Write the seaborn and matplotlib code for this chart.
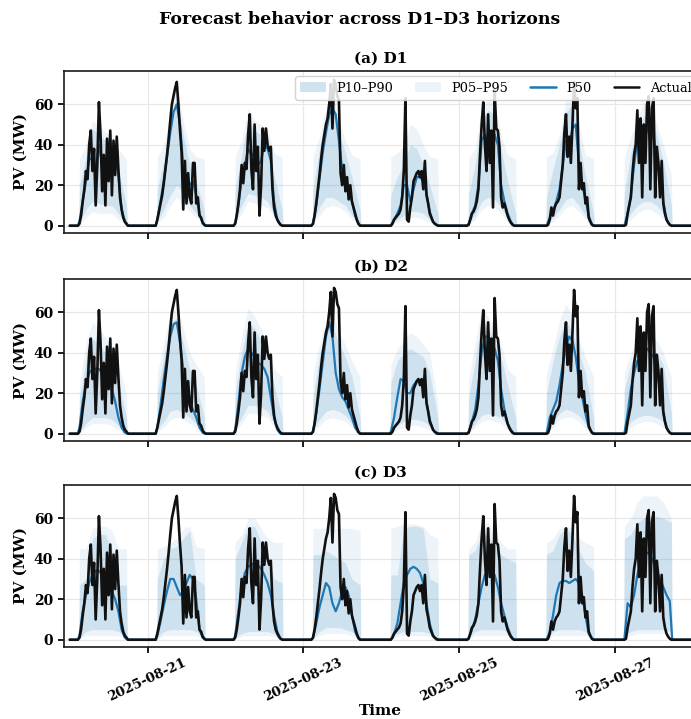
import numpy as np
import pandas as pd
import matplotlib
matplotlib.use("Agg")
import matplotlib.pyplot as plt
import matplotlib.dates as mdates
from matplotlib.patches import Patch
from matplotlib.lines import Line2D
import seaborn as sns

# ---------------- data ----------------
DAYS = ["2025-08-20", "2025-08-21", "2025-08-22", "2025-08-23",
        "2025-08-24", "2025-08-25", "2025-08-26", "2025-08-27"]
PANEL_TITLES = ["(a) D1", "(b) D2", "(c) D3"]
TICK_DATES = ["2025-08-21", "2025-08-23", "2025-08-25", "2025-08-27"]
Y_TICKS = [0, 20, 40, 60]

# Actual PV, half-hourly from 02:30 to 18:00 (zero at night)
ACT_HOURS = [2.5, 3.0, 3.5, 4.0, 4.5, 5.0, 5.5, 6.0, 6.5, 7.0, 7.5, 8.0, 8.5, 9.0, 9.5, 10.0,
             10.5, 11.0, 11.5, 12.0, 12.5, 13.0, 13.5, 14.0, 14.5, 15.0, 15.5, 16.0, 16.5, 17.0, 17.5, 18.0]
ACT_D20 = [0, 1, 5, 12, 18, 27, 23, 40, 47, 27, 38, 10, 30, 61, 45, 17, 35, 10, 43, 22, 47, 15, 42, 25, 44, 28, 14, 8, 4, 2, 1, 0]
ACT_D21 = [0, 3, 7, 11, 15, 21, 28, 35, 43, 52, 60, 64, 68, 71, 60, 47, 36, 8, 32, 11, 26, 14, 11, 31, 31, 11, 14, 5, 4, 1.5, 0.5, 0]
ACT_D22 = [0, 1, 5, 11, 18, 30, 21, 31, 28, 45, 55, 28, 18, 50, 27, 39, 5, 20, 48, 37, 48, 40, 37, 39, 18, 9, 5, 3, 1.5, 0.5, 0, 0]
ACT_D23 = [0, 1, 5, 11, 18, 25, 33, 40, 45, 50, 53, 60, 70, 48, 72, 70, 64, 62, 26, 20, 30, 17, 24, 13, 20, 12, 9, 6, 3, 1, 0, 0]
ACT_D24 = [0, 0, 1, 3, 4, 5, 6, 8, 14, 27, 63, 3, 2, 9, 14, 22, 24, 26, 27, 24, 27, 18, 32, 15, 11, 6, 4, 2, 1, 0.5, 0, 0]
ACT_D25 = [0, 0.5, 3, 6, 7, 9, 12, 18, 35, 50, 61, 40, 27, 55, 31, 47, 9, 67, 48, 47, 39, 14, 9, 11, 8, 5, 3, 1.5, 0.5, 0, 0, 0]
ACT_D26 = [0, 0, 0.5, 3, 9, 5, 9, 11, 12, 14, 22, 30, 46, 55, 34, 44, 31, 50, 71, 58, 63, 18, 31, 18, 21, 11, 14, 4, 2, 0.5, 0, 0]
ACT_D27 = [0, 0, 0.5, 6, 10, 14, 26, 35, 40, 57, 31, 53, 14, 50, 31, 60, 64, 18, 58, 63, 14, 39, 31, 14, 32, 11, 6, 3, 1.5, 0.5, 0, 0]
ACTUAL_DAYS = [ACT_D20, ACT_D21, ACT_D22, ACT_D23, ACT_D24, ACT_D25, ACT_D26, ACT_D27]

# P50 forecasts, hourly 03:00 .. 17:00
P50_HOURS = [3, 4, 5, 6, 7, 8, 9, 10, 11, 12, 13, 14, 15, 16, 17]
P50_D1 = [
    [2, 12, 22, 33, 33, 28, 40, 30, 28, 33, 30, 33, 25, 8, 2],
    [3, 12, 22, 34, 46, 56, 60, 50, 30, 22, 20, 22, 15, 6, 1],
    [1, 10, 24, 30, 38, 35, 36, 30, 32, 40, 38, 32, 12, 3, 0.5],
    [1, 10, 23, 36, 46, 55, 58, 55, 42, 28, 22, 18, 12, 5, 1],
    [0, 3, 6, 10, 20, 20, 12, 18, 24, 24, 22, 16, 7, 2, 0.5],
    [1, 6, 10, 20, 42, 45, 40, 38, 45, 40, 20, 12, 6, 2, 0],
    [0, 4, 7, 12, 18, 30, 42, 40, 48, 50, 30, 20, 13, 5, 0.5],
    [0, 6, 15, 30, 42, 40, 38, 50, 42, 45, 32, 25, 12, 3, 0.5],
]
P50_D2 = [
    [3, 16, 24, 30, 32, 32, 32, 30, 28, 26, 22, 16, 8, 3, 0.5],
    [3, 14, 27, 38, 48, 54, 55, 45, 32, 22, 16, 12, 8, 3, 0.5],
    [2, 15, 30, 38, 42, 40, 38, 35, 34, 32, 28, 18, 8, 2, 0],
    [1, 10, 22, 35, 48, 55, 48, 30, 22, 18, 16, 12, 8, 3, 0.5],
    [1, 8, 18, 27, 26, 20, 20, 24, 26, 26, 24, 16, 7, 2, 0],
    [1, 6, 12, 24, 40, 48, 48, 45, 42, 36, 22, 12, 5, 2, 0],
    [0, 8, 12, 16, 24, 34, 42, 48, 46, 38, 26, 18, 10, 3, 0.5],
    [0, 10, 22, 30, 36, 38, 40, 42, 40, 38, 32, 22, 10, 3, 0.5],
]
P50_D3 = [
    [2, 14, 22, 28, 32, 34, 34, 32, 30, 27, 24, 20, 14, 5, 1],
    [2, 9, 17, 24, 30, 30, 26, 22, 24, 28, 32, 30, 20, 5, 1],
    [2, 14, 26, 33, 36, 37, 38, 37, 35, 32, 28, 22, 12, 4, 0.5],
    [1, 8, 16, 22, 28, 26, 18, 14, 18, 24, 26, 22, 12, 4, 0.5],
    [0, 3, 8, 18, 28, 32, 35, 36, 35, 33, 28, 18, 8, 2, 0],
    [1, 5, 10, 18, 26, 32, 34, 34, 32, 26, 18, 12, 6, 2, 0],
    [0, 4, 12, 22, 28, 29, 29, 28, 29, 30, 28, 22, 12, 3, 0.5],
    [0, 18, 16, 22, 32, 38, 42, 43, 42, 38, 34, 30, 26, 22, 19],
]
P50_PANELS = [P50_D1, P50_D2, P50_D3]

# Quantile bands, at 03, 05, 07, 09, 11, 13, 15, 17:30
BAND_HOURS = [3, 5, 7, 9, 11, 13, 15, 17.5]
P95_D1 = [[33, 40, 52, 50, 46, 45, 38, 33], [34, 40, 55, 70, 52, 38, 34, 33], [34, 42, 58, 52, 50, 48, 36, 34],
          [34, 44, 58, 66, 52, 42, 35, 33], [34, 36, 40, 50, 48, 40, 34, 33], [34, 38, 58, 62, 60, 45, 35, 33],
          [34, 36, 45, 62, 66, 50, 35, 33], [34, 44, 54, 60, 60, 50, 40, 25]]
P90_D1 = [[20, 34, 48, 45, 42, 40, 28, 10], [18, 32, 50, 64, 45, 30, 22, 8], [18, 35, 52, 47, 45, 42, 25, 8],
          [18, 38, 54, 62, 45, 36, 24, 8], [15, 24, 30, 40, 38, 30, 20, 6], [16, 30, 52, 57, 55, 38, 22, 6],
          [14, 28, 40, 56, 60, 42, 25, 6], [16, 36, 48, 54, 55, 45, 32, 10]]
P10_D1 = [[2, 8, 12, 11, 10, 10, 6, 1], [2, 8, 15, 20, 16, 10, 6, 1], [2, 10, 16, 15, 14, 12, 6, 1],
          [2, 9, 14, 14, 12, 10, 5, 1], [1, 3, 5, 7, 7, 6, 3, 0.5], [1, 5, 12, 14, 13, 9, 4, 0.5],
          [1, 4, 8, 13, 14, 10, 5, 0.5], [1, 6, 10, 12, 12, 10, 6, 1]]
P05_D1 = [[1, 4, 7, 6, 6, 6, 3, 0.5], [1, 4, 10, 14, 11, 7, 4, 0.5], [1, 6, 12, 11, 10, 9, 4, 0.5],
          [1, 5, 9, 10, 9, 7, 3, 0.5], [0.5, 1.5, 3, 4, 4, 3, 2, 0], [0.5, 3, 8, 10, 9, 6, 2, 0],
          [0.5, 2, 5, 9, 10, 7, 3, 0], [0.5, 3, 6, 8, 8, 6, 3, 0]]

P95_D2 = [[25, 45, 55, 52, 48, 42, 34, 20], [30, 45, 60, 62, 52, 40, 34, 28], [30, 48, 62, 58, 52, 44, 32, 28],
          [30, 44, 56, 60, 50, 44, 36, 28], [34, 42, 46, 50, 48, 44, 40, 15], [27, 45, 62, 58, 52, 44, 32, 28],
          [30, 42, 56, 64, 58, 46, 38, 28], [30, 40, 46, 48, 48, 46, 40, 28]]
P90_D2 = [[18, 36, 47, 44, 40, 36, 26, 8], [20, 38, 55, 57, 45, 32, 24, 8], [20, 40, 55, 52, 46, 38, 24, 8],
          [18, 38, 50, 54, 44, 38, 28, 8], [25, 36, 40, 42, 40, 38, 30, 8], [18, 36, 56, 52, 46, 38, 24, 8],
          [20, 36, 48, 56, 50, 40, 30, 8], [22, 34, 40, 42, 42, 40, 34, 10]]
P10_D2 = [[1, 5, 8, 8, 8, 7, 4, 0.5], [2, 6, 11, 12, 10, 8, 5, 1], [2, 8, 14, 14, 13, 11, 5, 1],
          [2, 7, 11, 12, 11, 9, 5, 1], [1, 4, 6, 7, 7, 6, 4, 0.5], [1, 5, 9, 10, 9, 8, 4, 0.5],
          [1, 6, 10, 12, 11, 9, 5, 0.5], [1, 6, 8, 9, 9, 8, 6, 1]]
P05_D2 = [[0.5, 3, 5, 5, 5, 4, 2, 0], [1, 3, 7, 8, 7, 5, 3, 0.5], [1, 5, 10, 10, 9, 8, 3, 0.5],
          [1, 4, 7, 8, 7, 6, 3, 0.5], [0.5, 2, 3, 4, 4, 3, 2, 0], [0.5, 3, 6, 7, 6, 5, 2, 0],
          [0.5, 3, 7, 8, 8, 6, 3, 0], [0.5, 3, 5, 6, 6, 5, 3, 0]]

P95_D3 = [[45, 45, 55, 56, 56, 54, 45, 45], [45, 46, 48, 50, 55, 56, 46, 45], [48, 52, 60, 60, 55, 50, 48, 48],
          [55, 55, 55, 55, 55, 55, 55, 54], [55, 56, 57, 57, 57, 56, 52, 50], [45, 48, 58, 58, 52, 48, 45, 45],
          [48, 50, 55, 56, 55, 50, 48, 46], [56, 60, 68, 71, 71, 71, 68, 60]]
P90_D3 = [[27, 30, 50, 52, 52, 45, 27, 27], [30, 40, 45, 46, 50, 54, 30, 27], [40, 48, 56, 56, 48, 43, 30, 28],
          [42, 42, 44, 42, 40, 38, 30, 27], [32, 32, 55, 56, 56, 55, 30, 28], [42, 44, 52, 52, 46, 42, 40, 38],
          [42, 44, 52, 55, 52, 44, 38, 34], [50, 52, 58, 60, 61, 61, 60, 58]]
P10_D3 = [[1, 4, 5, 5, 5, 5, 4, 1], [1, 4, 5, 5, 5, 5, 4, 1], [1, 3, 4, 4, 4, 4, 3, 1],
          [1, 4, 6, 6, 6, 5, 4, 1], [1, 3, 4, 4, 4, 4, 3, 1], [1, 4, 5, 5, 5, 5, 4, 1],
          [1, 4, 5, 5, 5, 5, 4, 1], [2, 4, 5, 5, 5, 5, 5, 4]]
P05_D3 = [[0.5, 2, 2, 2, 2, 2, 2, 0.5], [0.5, 2, 2, 2, 2, 2, 2, 0.5], [0.5, 1.5, 2, 2, 2, 2, 1.5, 0.5],
          [0.5, 2, 3, 3, 3, 3, 2, 0.5], [0.5, 1.5, 2, 2, 2, 2, 1.5, 0.5], [0.5, 2, 2, 2, 2, 2, 2, 0.5],
          [0.5, 2, 2, 2, 2, 2, 2, 0.5], [1, 2, 3, 3, 3, 3, 3, 2]]

BANDS = [(P05_D1, P10_D1, P90_D1, P95_D1),
         (P05_D2, P10_D2, P90_D2, P95_D2),
         (P05_D3, P10_D3, P90_D3, P95_D3)]

# ---------------- helpers ----------------
def build(day_list, hours, pad_lo=None, pad_hi=None):
    times, vals = [], []
    for d, day_vals in enumerate(day_list):
        base = pd.Timestamp(DAYS[d])
        h = [0.0] + ([pad_lo] if pad_lo is not None else []) + list(hours) + \
            ([pad_hi] if pad_hi is not None else []) + [23.75]
        v = [0.0] + ([0.0] if pad_lo is not None else []) + list(day_vals) + \
            ([0.0] if pad_hi is not None else []) + [0.0]
        times.extend(base + pd.to_timedelta(h, unit="h"))
        vals.extend(v)
    return pd.DataFrame({"time": pd.to_datetime(times), "value": np.array(vals, dtype=float)})

# ---------------- style ----------------
sns.set_theme(style="whitegrid")
plt.rcParams.update({
    "font.family": ["DejaVu Serif"],
    "text.color": "black",
    "axes.labelcolor": "black",
    "axes.edgecolor": "#1a1a1a",
    "axes.linewidth": 1.2,
    "grid.color": "#e8e8e8",
    "grid.linewidth": 0.9,
    "xtick.bottom": True,
    "ytick.left": True,
    "xtick.color": "black",
    "ytick.color": "black",
    "xtick.major.size": 4,
    "ytick.major.size": 4,
    "xtick.major.pad": 2.5,
})

BLUE = "#1f77b4"
fig = plt.figure(figsize=(6.91, 7.19), dpi=100)

left = 63.5 / 691
width = 634.4 / 691
height = 162 / 719
bottoms = [1 - 233 / 719, 1 - 441 / 719, 1 - 647 / 719]

t0 = pd.Timestamp(DAYS[0])
t1 = pd.Timestamp(DAYS[-1]) + pd.Timedelta(hours=23.75)
pad = pd.Timedelta(hours=1.92)

actual_df = build(ACTUAL_DAYS, ACT_HOURS)

axes = []
for i in range(3):
    ax = fig.add_axes([left, bottoms[i], width, height])
    axes.append(ax)
    p05, p10, p90, p95 = BANDS[i]
    lo95 = build(p05, BAND_HOURS, 2.75, 17.75)
    hi95 = build(p95, BAND_HOURS, 2.75, 17.75)
    lo90 = build(p10, BAND_HOURS, 2.75, 17.75)
    hi90 = build(p90, BAND_HOURS, 2.75, 17.75)
    ax.fill_between(lo95["time"], lo95["value"], hi95["value"], color=BLUE, alpha=0.08, lw=0)
    ax.fill_between(lo90["time"], lo90["value"], hi90["value"], color=BLUE, alpha=0.15, lw=0)
    p50_df = build(P50_PANELS[i], P50_HOURS, 2.5, 17.75)
    sns.lineplot(data=p50_df, x="time", y="value", color=BLUE, lw=1.6, ax=ax,
                 estimator=None, errorbar=None, legend=False)
    sns.lineplot(data=actual_df, x="time", y="value", color="#111111", lw=1.9, ax=ax,
                 estimator=None, errorbar=None, legend=False)

    ax.set_xlim(t0 - pad, t1 + pad)
    ax.set_ylim(-3.6, 76.4)
    ax.set_yticks(Y_TICKS)
    ax.set_xticks(pd.to_datetime(TICK_DATES))
    ax.xaxis.set_major_formatter(mdates.DateFormatter("%Y-%m-%d"))
    ax.set_title(PANEL_TITLES[i], fontsize=11, fontweight="bold", pad=6)
    ax.set_ylabel("PV (MW)", fontsize=11, fontweight="bold")
    for lab in ax.get_yticklabels():
        lab.set_fontweight("bold")
        lab.set_fontsize(10)
    if i < 2:
        ax.tick_params(axis="x", labelbottom=False)
        ax.set_xlabel("")
    else:
        for lab in ax.get_xticklabels():
            lab.set_fontweight("bold")
            lab.set_fontsize(9.5)
            lab.set_rotation(25)
            lab.set_ha("center")
        ax.set_xlabel("Time", fontsize=11, fontweight="bold", labelpad=0)

handles = [
    Patch(facecolor=BLUE, alpha=0.2, edgecolor="none", label="P10–P90"),
    Patch(facecolor=BLUE, alpha=0.08, edgecolor="none", label="P05–P95"),
    Line2D([0], [0], color=BLUE, lw=1.8, label="P50"),
    Line2D([0], [0], color="#111111", lw=1.8, label="Actual"),
]
axes[0].legend(handles=handles, ncol=4, loc="upper right", fontsize=9.3, frameon=True,
               framealpha=0.85, edgecolor="#cccccc", borderaxespad=0.1, columnspacing=1.7,
               bbox_to_anchor=(1.0, 0.975))

fig.suptitle("Forecast behavior across D1–D3 horizons", x=360 / 691, y=0.985,
             fontsize=12.5, fontweight="bold")

fig.savefig("out.png", dpi=100)
